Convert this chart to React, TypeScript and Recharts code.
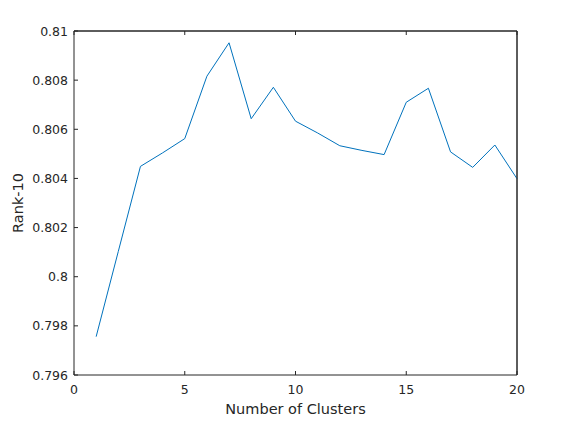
import { LineChart, Line, XAxis, YAxis, ReferenceLine } from 'recharts'

const clusters = [1, 2, 3, 4, 5, 6, 7, 8, 9, 10, 11, 12, 13, 14, 15, 16, 17, 18, 19, 20]
const rank10 = [
  0.79756, 0.80103, 0.80449, 0.80504, 0.80562, 0.80816, 0.80952, 0.80643, 0.80771, 0.80633,
  0.80585, 0.80533, 0.80514, 0.80497, 0.8071, 0.80767, 0.80508, 0.80445, 0.80536, 0.80399,
]
const xTicks = [0, 5, 10, 15, 20]
const yTicks = [0.796, 0.798, 0.8, 0.802, 0.804, 0.806, 0.808, 0.81]

const data = clusters.map((c, i) => ({ k: c, rank: rank10[i] }))

const ink = '#262626'
const font = 'DejaVu Sans, sans-serif'
const TL = 4 // inward tick length

// ticks pointing into the plot, MATLAB style
const BottomTick = ({ x, y, payload }: any) => (
  <g>
    <line x1={x} x2={x} y1={y} y2={y - TL} stroke={ink} />
    <text x={x} y={y + 18.5} textAnchor="middle" fontSize={12.5} fill={ink} fontFamily={font}>
      {payload.value}
    </text>
  </g>
)
const LeftTick = ({ x, y, payload }: any) => (
  <g>
    <line x1={x} x2={x + TL} y1={y} y2={y} stroke={ink} />
    <text x={x - 6} y={y + 4.5} textAnchor="end" fontSize={12.5} fill={ink} fontFamily={font}>
      {payload.value}
    </text>
  </g>
)
const TopTick = ({ x, y }: any) => <line x1={x} x2={x} y1={y} y2={y + TL} stroke={ink} />
const RightTick = ({ x, y }: any) => <line x1={x} x2={x - TL} y1={y} y2={y} stroke={ink} />

export default function App() {
  return (
    <div style={{ position: 'absolute', left: 0, top: 0, width: 570, height: 422, background: '#fff' }}>
      <LineChart width={570} height={422} data={data} margin={{ top: 30, right: 52, left: 0, bottom: 0 }}>
        <XAxis
          xAxisId="b"
          dataKey="k"
          type="number"
          domain={[0, 20]}
          ticks={xTicks}
          height={47}
          tickSize={0}
          tickMargin={0}
          tickLine={false}
          tick={<BottomTick />}
          stroke={ink}
          label={{ value: 'Number of Clusters', position: 'insideBottom', offset: 8, fill: ink, fontSize: 14.5, fontFamily: font }}
        />
        <XAxis
          xAxisId="t"
          orientation="top"
          dataKey="k"
          type="number"
          domain={[0, 20]}
          ticks={xTicks}
          height={1}
          tickSize={0}
          tickMargin={0}
          tickLine={false}
          tick={<TopTick />}
          stroke={ink}
        />
        <YAxis
          yAxisId="l"
          type="number"
          domain={[0.796, 0.81]}
          ticks={yTicks}
          width={74}
          tickSize={0}
          tickMargin={0}
          tickLine={false}
          tick={<LeftTick />}
          stroke={ink}
          label={{ value: 'Rank-10', angle: -90, position: 'insideLeft', offset: 18, fill: ink, fontSize: 14.5, fontFamily: font, style: { textAnchor: 'middle' } }}
        />
        <YAxis
          yAxisId="r"
          orientation="right"
          type="number"
          domain={[0.796, 0.81]}
          ticks={yTicks}
          width={1}
          tickSize={0}
          tickMargin={0}
          tickLine={false}
          tick={<RightTick />}
          stroke={ink}
        />
        <ReferenceLine xAxisId="b" yAxisId="l" y={0.81} stroke={ink} />
        <ReferenceLine xAxisId="b" yAxisId="l" x={20} stroke={ink} />
        <Line
          xAxisId="b"
          yAxisId="l"
          dataKey="rank"
          stroke="#0072BD"
          strokeWidth={1}
          dot={false}
          isAnimationActive={false}
        />
      </LineChart>
    </div>
  )
}
